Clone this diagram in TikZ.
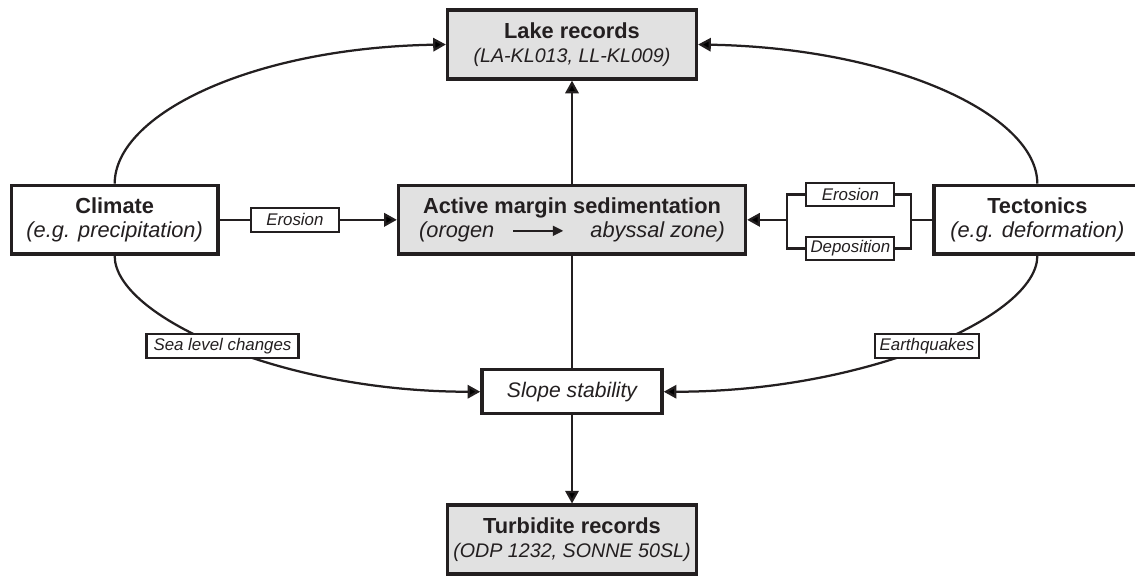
\documentclass[tikz,border=0pt]{standalone}
\usepackage{fontspec}
\setmainfont{Liberation Sans}
\usepackage{tikz}
\usetikzlibrary{arrows.meta,positioning}
\definecolor{InkBlack}{HTML}{231F20}
\definecolor{CoreGray}{HTML}{E1E1E1}
\tikzset{
  MB/.style={rectangle,draw=InkBlack,line width=2.5pt,text=InkBlack,
             minimum height=1.72cm,align=center,inner sep=2pt,
             font=\fontsize{15.5}{17.5}\selectfont},
  nRec/.style={MB,fill=CoreGray,minimum width=6.22cm},
  nCore/.style={MB,fill=CoreGray,minimum width=8.67cm},
  nDrv/.style={MB,fill=white,minimum width=5.17cm},
  lbl/.style={rectangle,draw=InkBlack,line width=1.5pt,fill=white,text=InkBlack,
              inner sep=1pt,minimum height=0.6cm,
              font=\fontsize{12}{14}\selectfont\itshape},
  wire/.style={draw=InkBlack,line width=1.6pt},
  arr/.style={wire,-{Triangle[length=9pt,width=9.5pt]}}
}

\begin{document}
\begin{tikzpicture}
  \useasboundingbox (0,0) rectangle (28.375,-14.425);

  % Centre column
  \node[nRec] (lake) at (14.3,-1.1125)
    {\textbf{Lake records}\\{\fontsize{14}{16.5}\selectfont\itshape (LA-KL013, LL-KL009)}};
  \node[nCore,below=2.575cm of lake] (margin)
    {\textbf{Active margin sedimentation}\\\itshape (orogen\hspace{0.45cm}\tikz[baseline=-0.6ex]\draw[wire,line width=1.5pt,-{Triangle[length=7.5pt,width=7pt]}] (0,0)--(1.25,0);\hspace{0.65cm}abyssal zone)};
  \node[MB,fill=white,minimum width=4.5cm,minimum height=1.1cm,
        font=\fontsize{15}{17}\selectfont\itshape,below=2.8cm of margin] (slope) {Slope stability};
  \node[nRec,below=2.2cm of slope] (turb)
    {\textbf{Turbidite records}\\{\fontsize{14}{16.5}\selectfont\itshape (ODP 1232, SONNE 50SL)}};

  % Forcings
  \node[nDrv,left=4.425cm of margin] (climate) {\textbf{Climate}\\\itshape (e.g. precipitation)};
  \node[nDrv,right=4.625cm of margin] (tect) {\textbf{Tectonics}\\\itshape (e.g. deformation)};

  % Process labels
  \node[lbl,minimum width=2.2cm,right=0.75cm of climate] (erosL) {Erosion};
  \node[lbl,minimum width=2.2cm,minimum height=0.58cm] (erosR) at (21.26,-4.86) {Erosion};
  \node[lbl,minimum width=2.2cm,minimum height=0.58cm] (depR) at (21.26,-6.21) {Deposition};
  \coordinate[right=1cm of margin] (jl);
  \coordinate[left=0.525cm of tect] (jr);

  \draw[arr] (margin) -- (lake);
  \draw[wire] (margin) -- (slope);
  \draw[arr] (slope) -- (turb);

  \draw[wire] (climate) -- (erosL);
  \draw[arr] (erosL) -- (margin);

  \draw[wire] (tect) -- (jr);
  \draw[wire] (erosR.east) -| (jr) |- (depR.east);
  \draw[wire] (erosR.west) -| (jl) |- (depR.west);
  \draw[arr] (jl) -- (margin);

  \draw[arr] (climate.north) to[out=90,in=181,out distance=1.725cm,in distance=4.875cm] (lake.west);
  \draw[arr] (tect.north) to[out=90,in=-1,out distance=1.725cm,in distance=4.875cm] (lake.east);

  \draw[arr] (climate.south) to[out=-90,in=180,out distance=1.5cm,in distance=5cm]
    node[lbl,minimum width=3.8cm,pos=0.5] (sea) {Sea level changes} (slope.west);
  \draw[arr] (tect.south) to[out=-90,in=0,out distance=1.5cm,in distance=5.1cm]
    node[lbl,minimum width=2.6cm,pos=0.5] (quake) {Earthquakes} (slope.east);
\end{tikzpicture}
\end{document}
